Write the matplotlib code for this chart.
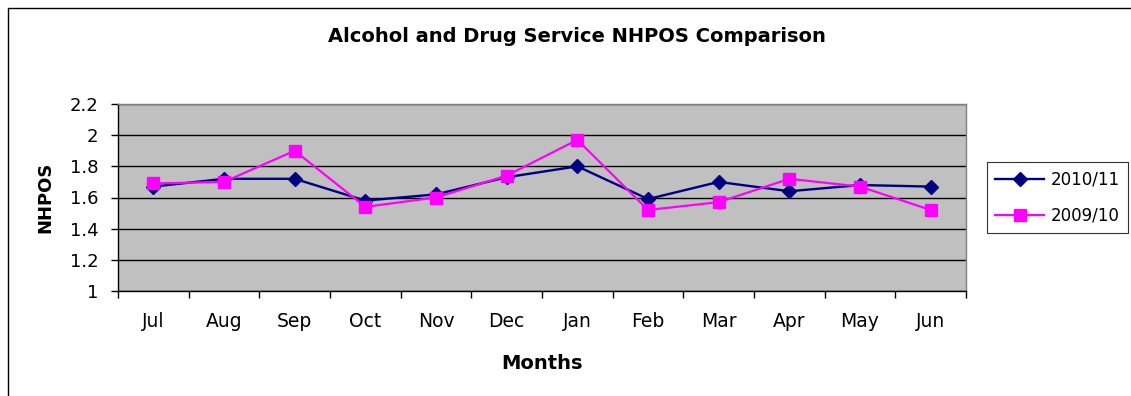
import matplotlib
matplotlib.use("Agg")
import matplotlib.pyplot as plt
from matplotlib.patches import Rectangle

months = ["Jul", "Aug", "Sep", "Oct", "Nov", "Dec", "Jan", "Feb", "Mar", "Apr", "May", "Jun"]
s2010_11 = [1.67, 1.72, 1.72, 1.58, 1.62, 1.73, 1.80, 1.59, 1.70, 1.64, 1.68, 1.67]
s2009_10 = [1.69, 1.70, 1.90, 1.54, 1.60, 1.74, 1.97, 1.52, 1.57, 1.72, 1.67, 1.52]
yticks = [1, 1.2, 1.4, 1.6, 1.8, 2, 2.2]
ytick_labels = ["1", "1.2", "1.4", "1.6", "1.8", "2", "2.2"]

plt.rcParams['font.family'] = ['DejaVu Sans']

W, H = 1131, 396
fig = plt.figure(figsize=(W / 100, H / 100), dpi=100)
fig.patch.set_facecolor("white")

# outer chart border
fig.add_artist(Rectangle((8 / W, -0.05), 1.2, 1 - 8 / H + 0.05, transform=fig.transFigure,
                         fill=False, edgecolor="black", linewidth=1.0))

left, right, top, bottom = 118, 966, 104, 291
ax = fig.add_axes([left / W, 1 - bottom / H, (right - left) / W, (bottom - top) / H])
ax.set_facecolor("#c0c0c0")

x = list(range(len(months)))
ax.plot(x, s2010_11, color="#000080", marker="D", markersize=7, linewidth=1.7,
        label="2010/11", zorder=3)
ax.plot(x, s2009_10, color="#ff00ff", marker="s", markersize=8, linewidth=1.6,
        label="2009/10", zorder=4)

ax.set_xlim(-0.5, len(months) - 0.5)
ax.set_ylim(1, 2.2)
ax.set_yticks(yticks)
ax.set_yticklabels(ytick_labels, fontsize=13)
ax.set_xticks(x)
ax.set_xticklabels(months, fontsize=13.5)
ax.set_xticks([i - 0.5 for i in range(len(months) + 1)], minor=True)
ax.tick_params(axis="x", which="major", length=0, pad=15)
ax.tick_params(axis="x", which="minor", length=5, direction="out", width=1)
ax.tick_params(axis="y", length=5, direction="out", width=1, pad=9)

ax.grid(axis="y", color="black", linewidth=1.0)
ax.set_axisbelow(True)
for sp in ["top", "right"]:
    ax.spines[sp].set_color("#808080")
    ax.spines[sp].set_linewidth(1.0)
for sp in ["left", "bottom"]:
    ax.spines[sp].set_color("black")
    ax.spines[sp].set_linewidth(1.0)

ax.set_xlabel("Months", fontsize=14, fontweight="bold", labelpad=17)
ax.set_ylabel("NHPOS", fontsize=13, fontweight="bold", labelpad=11)

fig.text(577 / W, 1 - 36 / H, "Alcohol and Drug Service NHPOS Comparison",
         ha="center", va="center", fontsize=14, fontweight="bold")

leg = fig.legend(loc="upper left", bbox_to_anchor=(987 / W, 1 - 162 / H),
                 bbox_transform=fig.transFigure, fontsize=12, frameon=True,
                 fancybox=False, edgecolor="black", handlelength=2.9,
                 borderpad=0.5, labelspacing=1.1, handletextpad=0.4,
                 borderaxespad=0)
leg.get_frame().set_linewidth(0.8)

fig.savefig("out.png", dpi=100)
